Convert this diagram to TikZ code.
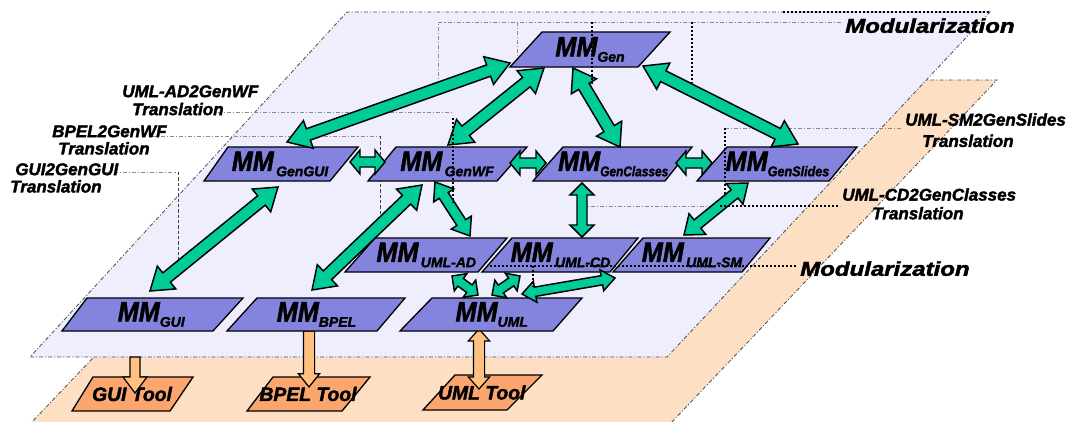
\documentclass[tikz,border=0pt]{standalone}
\usepackage{fontspec}
\setmainfont{Liberation Sans}
\newfontfamily\heavy[FakeBold=2]{Liberation Sans}
\usetikzlibrary{calc}
\definecolor{mint}{RGB}{0,204,153}
\definecolor{nodefill}{RGB}{132,132,222}
\definecolor{lavender0}{RGB}{238,238,252}
\definecolor{peach0}{RGB}{253,224,196}
\definecolor{toolfill}{RGB}{250,166,110}
\definecolor{peachar}{RGB}{255,192,128}
\tikzset{
  plane/.style={draw=black!70, line width=0.6pt, dash pattern=on 3pt off 1.5pt on 0.8pt off 1.5pt},
  mmbox/.style={fill=nodefill, draw=black, line width=1pt, line join=miter},
  toolbox/.style={fill=toolfill, draw=black, line width=1pt, line join=miter},
  lbl/.style={font=\heavy\bfseries\itshape, inner sep=0pt},
  tarrow/.style={fill=mint, draw=black, line width=1.1pt, line join=miter},
  parrow/.style={fill=peachar, draw=black, line width=0.9pt, line join=miter},
  gd/.style={draw=black!45, line width=0.6pt, dash pattern=on 3pt off 1.5pt on 0.8pt off 1.5pt},
  gdk/.style={draw=black!75, line width=0.6pt, dash pattern=on 2.5pt off 1.5pt},
  bd/.style={draw=black, line width=1.6pt, dash pattern=on 1.8pt off 1.2pt},
}
% #1 style, #2 name, #3 ytop, #4 ybot, #5 TL, #6 TR, #7 BL, #8 BR, #9 label
\newcommand\pgram[9]{%
  \draw[#1] (#5,#3) -- (#6,#3) -- (#8,#4) -- (#7,#4) -- cycle;
  \node[lbl] (#2) at ({(#5+#6+#7+#8)/4},{(#3+#4)/2}) {#9};
}
% double block arrow: #1 style, #2 A, #3 B, #4 shaft half, #5 head half, #6 head length
\newcommand\dblarrow[6]{%
  \path[#1] (#2) -- ($(#2)!#6!(#3)!#5!90:(#3)$) -- ($(#2)!#6!(#3)!#4!90:(#3)$)
   -- ($(#3)!#6!(#2)!#4!-90:(#2)$) -- ($(#3)!#6!(#2)!#5!-90:(#2)$) -- (#3)
   -- ($(#3)!#6!(#2)!#5!90:(#2)$) -- ($(#3)!#6!(#2)!#4!90:(#2)$)
   -- ($(#2)!#6!(#3)!#4!-90:(#3)$) -- ($(#2)!#6!(#3)!#5!-90:(#3)$) -- cycle;
}
% single block arrow from #2 (tail) to #3 (tip)
\newcommand\sglarrow[6]{%
  \path[#1] (#3) -- ($(#3)!#6!(#2)!#5!90:(#2)$) -- ($(#3)!#6!(#2)!#4!90:(#2)$)
   -- ($(#2)!#4!-90:(#3)$) -- ($(#2)!#4!90:(#3)$)
   -- ($(#3)!#6!(#2)!#4!-90:(#2)$) -- ($(#3)!#6!(#2)!#5!-90:(#2)$) -- cycle;
}
\newcommand\mmlab[2][1]{\scalebox{0.9}[1]{\fontsize{21}{21}\selectfont MM}\raisebox{-4pt}{\scalebox{#1}[1]{\fontsize{10.5}{10.5}\selectfont #2}}}
\newcommand\toollab[1]{{\fontsize{14.5}{14.5}\selectfont #1}}
\begin{document}
\begin{tikzpicture}[x=0.75pt,y=-0.75pt]
\useasboundingbox (0,0) rectangle (1081,421);
% planes
\path[plane, fill=peach0] (29,425) -- (669,425) -- (997,80) -- (358,80) -- cycle;
\path[plane, fill=lavender0] (30,357) -- (667,357) -- (990,12) -- (347,12) -- cycle;
\draw[bd, line width=1.2pt] (783,12) -- (990,12);
% tools
\pgram{toolbox}{guitool}{377}{411}{93}{193}{72}{170}{\toollab{GUI Tool}}
\pgram{toolbox}{bpeltool}{377}{411}{273}{370}{247}{342}{\toollab{BPEL Tool}}
\pgram{toolbox}{umltool}{375}{410}{455}{542}{423}{507}{\toollab{UML Tool}}
% peach arrows
\coordinate (p1a) at (135,357); \coordinate (p1b) at (135,393);
\coordinate (p2a) at (309,331); \coordinate (p2b) at (309,387);
\coordinate (p3a) at (479,329); \coordinate (p3b) at (479,389);
\sglarrow{parrow}{p1a}{p1b}{3.75pt}{9pt}{12pt}
\sglarrow{parrow}{p2a}{p2b}{4.2pt}{8pt}{10pt}
\dblarrow{parrow}{p3a}{p3b}{4.2pt}{8pt}{9pt}
% grey call-out lines
\draw[gd] (438,85) -- (438,22) -- (843,22);
\draw[gd] (517,22) -- (517,62);
\draw[gd] (218,112) -- (452,112);
\draw[gd] (152,136) -- (380,136);
\draw[gdk] (380,136) -- (380,228);
\draw[gd] (105,172) -- (178,172);
\draw[gdk] (178,172) -- (178,277);
\draw[gd] (725,128) -- (903,128);
\draw[gd] (582,206) -- (720,206);
% MM nodes
\pgram{mmbox}{gen}{32}{67}{542}{670}{510}{638}{\mmlab{Gen}}
\pgram{mmbox}{gengui}{147}{181}{228}{358}{204}{330}{\mmlab{\,GenGUI}}
\pgram{mmbox}{genwf}{147}{181}{396}{527}{368}{497}{\mmlab{\,GenWF}}
\pgram{mmbox}{gencl}{147}{181}{563}{692}{533}{665}{\mmlab[0.85]{GenClasses}}
\pgram{mmbox}{gensl}{147}{181}{727}{857}{697}{829}{\mmlab[0.9]{GenSlides}}
\pgram{mmbox}{umlad}{238}{272}{375}{507}{345}{478}{\mmlab{\,UML-AD}}
\pgram{mmbox}{umlcd}{238}{272}{512}{638}{482}{610}{\mmlab{\,UML-CD}}
\pgram{mmbox}{umlsm}{238}{272}{643}{770}{613}{742}{\mmlab{\,UML-SM}}
\pgram{mmbox}{gui}{298}{331}{87}{243}{62}{213}{\mmlab{GUI}}
\pgram{mmbox}{bpel}{298}{331}{257}{405}{227}{377}{\mmlab{BPEL}}
\pgram{mmbox}{uml}{298}{331}{432}{582}{400}{553}{\mmlab{UML}}
% teal arrow end points
\coordinate (a1a) at (510,63);  \coordinate (a1b) at (287,142);
\coordinate (a2a) at (544,68);  \coordinate (a2b) at (448,145);
\coordinate (a3a) at (573,68);  \coordinate (a3b) at (620,147);
\coordinate (a4a) at (643,66);  \coordinate (a4b) at (798,144);
\coordinate (a5a) at (350,162); \coordinate (a5b) at (385,162);
\coordinate (a6a) at (510,163); \coordinate (a6b) at (546,163);
\coordinate (a7a) at (676,163); \coordinate (a7b) at (712,163);
\coordinate (a8a) at (278,187); \coordinate (a8b) at (150,291);
\coordinate (a9a) at (422,185); \coordinate (a9b) at (312,290);
\coordinate (a10a) at (435,182); \coordinate (a10b) at (470,236);
\coordinate (a11a) at (582,183); \coordinate (a11b) at (582,237);
\coordinate (a12a) at (748,183); \coordinate (a12b) at (684,235);
\coordinate (a13a) at (452,276); \coordinate (a13b) at (478,295);
\coordinate (a14a) at (520,276); \coordinate (a14b) at (492,295);
\coordinate (a15a) at (615,278); \coordinate (a15b) at (522,294);
\dblarrow{tarrow}{a1a}{a1b}{4.5pt}{11pt}{17pt}
\dblarrow{tarrow}{a2a}{a2b}{4.5pt}{11pt}{17pt}
\dblarrow{tarrow}{a3a}{a3b}{4.5pt}{11pt}{16pt}
\dblarrow{tarrow}{a4a}{a4b}{4.5pt}{11pt}{17pt}
\dblarrow{tarrow}{a5a}{a5b}{3.75pt}{9pt}{7.5pt}
\dblarrow{tarrow}{a6a}{a6b}{3.75pt}{9pt}{7.5pt}
\dblarrow{tarrow}{a7a}{a7b}{3.75pt}{9pt}{7.5pt}
\dblarrow{tarrow}{a8a}{a8b}{4.5pt}{11pt}{16pt}
\dblarrow{tarrow}{a9a}{a9b}{4.5pt}{11pt}{16pt}
\dblarrow{tarrow}{a10a}{a10b}{4pt}{9pt}{12pt}
\dblarrow{tarrow}{a11a}{a11b}{3.75pt}{9pt}{9pt}
\dblarrow{tarrow}{a12a}{a12b}{4pt}{10pt}{13pt}
\dblarrow{tarrow}{a13a}{a13b}{3.5pt}{8pt}{8pt}
\dblarrow{tarrow}{a14a}{a14b}{3.5pt}{8pt}{8pt}
\dblarrow{tarrow}{a15a}{a15b}{3.5pt}{8pt}{10pt}
% heavy dotted module lines
\draw[bd] (592,22) -- (592,84);
\draw[bd] (692,22) -- (692,83);
\draw[bd] (453,118) -- (453,203);
\draw[bd] (725,128) -- (725,196);
\draw[bd] (720,206) -- (840,206);
\draw[bd] (490,266) -- (797,266);
\draw[bd] (533,266) -- (533,287);
% text labels
\node[lbl, anchor=north west, align=left, font=\heavy\bfseries\itshape\fontsize{12.75}{13.5}\selectfont] (tad) at (122,85) {UML-AD2GenWF\\\hspace*{7.5pt}Translation};
\node[lbl, anchor=north west, align=left, font=\heavy\bfseries\itshape\fontsize{12.75}{13}\selectfont] (tbp) at (52,125) {BPEL2GenWF\\\hspace*{4.5pt}Translation};
\node[lbl, anchor=north west, align=left, font=\heavy\bfseries\itshape\fontsize{12.75}{13}\selectfont] (tgu) at (15,163) {GUI2GenGUI\\\hspace*{-3.75pt}Translation};
\node[lbl, anchor=north west, align=left, font=\heavy\bfseries\itshape\fontsize{12.75}{16}\selectfont] (tsm) at (905,113) {UML-SM2GenSlides\\\hspace*{12.75pt}Translation};
\node[lbl, anchor=north west, align=left, font=\heavy\bfseries\itshape\fontsize{12.75}{14}\selectfont] (tcd) at (842,188) {UML-CD2GenClasses\\\hspace*{22.5pt}Translation};
\node[lbl, anchor=north west, font=\heavy\bfseries\itshape\fontsize{15}{15}\selectfont] (mod1) at (845,18) {\scalebox{1.2}[1]{Modularization}};
\node[lbl, anchor=north west, font=\heavy\bfseries\itshape\fontsize{15}{15}\selectfont] (mod2) at (800,261) {\scalebox{1.2}[1]{Modularization}};
\end{tikzpicture}
\end{document}
